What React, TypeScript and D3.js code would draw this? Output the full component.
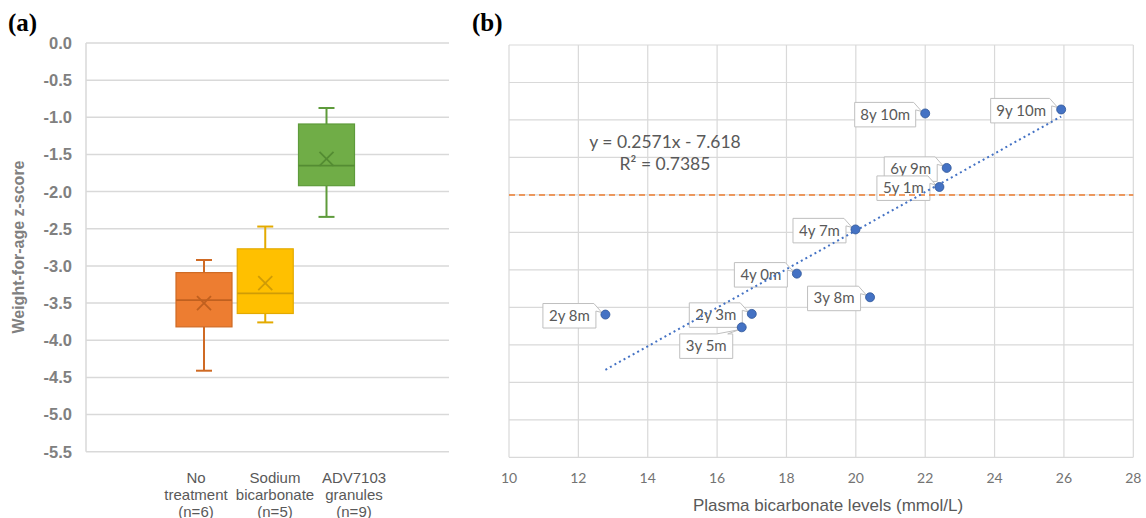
import React from "react";
import * as d3 from "d3";

// ---------- Panel (a): box plots ----------
const groupLines = [
  ["No", "treatment", "(n=6)"],
  ["Sodium", "bicarbonate", "(n=5)"],
  ["ADV7103", "granules", "(n=9)"],
];
const whiskerMin = [-4.41, -3.76, -2.34];
const quartile1 = [-3.82, -3.64, -1.92];
const medians = [-3.46, -3.37, -1.65];
const quartile3 = [-3.09, -2.77, -1.09];
const whiskerMax = [-2.92, -2.47, -0.875];
const means = [-3.5, -3.23, -1.56];
const zTicks = [0, -0.5, -1, -1.5, -2, -2.5, -3, -3.5, -4, -4.5, -5, -5.5];

// ---------- Panel (b): scatter ----------
const bicarbonate = [22.0, 25.92, 22.62, 22.41, 19.99, 18.3, 20.41, 12.78, 17.0, 16.71];
const zscores = [-0.913, -0.86, -1.64, -1.894, -2.46, -3.05, -3.365, -3.596, -3.587, -3.766];
const ageLabels = ["8y 10m", "9y 10m", "6y 9m", "5y 1m", "4y 7m", "4y 0m", "3y 8m", "2y 8m", "2y 3m", "3y 5m"];
const labelSide = ["left", "left", "left", "left", "left", "left", "left", "left", "left", "below"];
const slope = 0.2571;
const intercept = -7.618;
const rSquared = 0.7385;
const threshold = -2;
const bicarbTicks = [10, 12, 14, 16, 18, 20, 22, 24, 26, 28];

// styles
const boxFill = ["#ED7D31", "#FFC000", "#70AD47"];
const boxEdge = ["#CF6A24", "#E3AA00", "#5E9B3B"];
const boxInner = ["#C0601F", "#CF9C06", "#548C33"];
const gridCol = "#D9D9D9";
const sansA = "'Liberation Sans', Arial, sans-serif";
const sansB = "Lato, 'Liberation Sans', sans-serif";

export default function App() {
  // Panel (a) scales
  const yA = d3.scaleLinear().domain([-5.5, 0]).range([451.7, 43]);
  const xA = d3.scalePoint<number>().domain([0, 1, 2]).range([204, 326.5]);
  const xALabel = d3.scalePoint<number>().domain([0, 1, 2]).range([196, 354]);
  const aLeft = 86;
  const aRight = 449;
  const boxW = 56;
  const capW = 16;
  const xSize = 7;

  // Panel (b) scales
  const xB = d3.scaleLinear().domain([10, 28]).range([509, 1133.3]);
  const yB = d3.scaleLinear().domain([-5.5, 0]).range([457.3, 45]);
  const minX = d3.min(bicarbonate) as number;
  const maxX = d3.max(bicarbonate) as number;
  const trend = d3
    .line<number>()
    .x((v) => xB(v))
    .y((v) => yB(slope * v + intercept))([minX, maxX]);

  const labelH = 24.5;

  return (
    <svg
      width={1146}
      height={518}
      style={{ position: "absolute", left: 0, top: 0, background: "#fff" }}
    >
      <rect x={0} y={0} width={1146} height={518} fill="#fff" />
      {/* Panel labels */}
      <text x={8} y={31} fontFamily="'Liberation Serif', 'Times New Roman', serif" fontWeight="bold" fontSize={25} fill="#000">
        (a)
      </text>
      <text x={472} y={31} fontFamily="'Liberation Serif', 'Times New Roman', serif" fontWeight="bold" fontSize={25} fill="#000">
        (b)
      </text>

      {/* ===== Panel (a) ===== */}
      <g>
        {zTicks.map((t) => (
          <line key={"ga" + t} x1={aLeft} x2={aRight} y1={yA(t)} y2={yA(t)} stroke={gridCol} strokeWidth={1.5} />
        ))}
        <line x1={aLeft} x2={aLeft} y1={yA(0)} y2={yA(-5.5)} stroke={gridCol} strokeWidth={1.5} />
        {zTicks.map((t) => (
          <text
            key={"ta" + t}
            x={72}
            y={yA(t)}
            dy="0.36em"
            textAnchor="end"
            fontFamily={sansA}
            fontWeight="bold"
            fontSize={16.5}
            fill="#808080"
          >
            {t.toFixed(1)}
          </text>
        ))}
        <text
          transform={`translate(23.5, 247) rotate(-90)`}
          textAnchor="middle"
          fontFamily={sansA}
          fontWeight="bold"
          fontSize={16}
          fill="#808080"
        >
          Weight-for-age z-score
        </text>

        {groupLines.map((lines, i) => {
          const cx = xA(i) as number;
          const mY = yA(means[i]);
          return (
            <g key={"box" + i}>
              {/* whiskers */}
              <line x1={cx} x2={cx} y1={yA(quartile3[i])} y2={yA(whiskerMax[i])} stroke={boxEdge[i]} strokeWidth={2} />
              <line x1={cx} x2={cx} y1={yA(quartile1[i])} y2={yA(whiskerMin[i])} stroke={boxEdge[i]} strokeWidth={2} />
              <line x1={cx - capW / 2} x2={cx + capW / 2} y1={yA(whiskerMax[i])} y2={yA(whiskerMax[i])} stroke={boxEdge[i]} strokeWidth={2} />
              <line x1={cx - capW / 2} x2={cx + capW / 2} y1={yA(whiskerMin[i])} y2={yA(whiskerMin[i])} stroke={boxEdge[i]} strokeWidth={2} />
              {/* box */}
              <rect
                x={cx - boxW / 2}
                y={yA(quartile3[i])}
                width={boxW}
                height={yA(quartile1[i]) - yA(quartile3[i])}
                fill={boxFill[i]}
                stroke={boxEdge[i]}
                strokeWidth={1.2}
              />
              <line x1={cx - boxW / 2} x2={cx + boxW / 2} y1={yA(medians[i])} y2={yA(medians[i])} stroke={boxInner[i]} strokeWidth={1.8} />
              <line x1={cx - xSize} x2={cx + xSize} y1={mY - xSize} y2={mY + xSize} stroke={boxInner[i]} strokeWidth={1.8} />
              <line x1={cx - xSize} x2={cx + xSize} y1={mY + xSize} y2={mY - xSize} stroke={boxInner[i]} strokeWidth={1.8} />
              {/* category label */}
              {lines.map((ln, j) => (
                <text
                  key={"cl" + j}
                  x={xALabel(i) as number}
                  y={482.5 + j * 17}
                  textAnchor="middle"
                  fontFamily={sansA}
                  fontSize={15}
                  fill="#595959"
                >
                  {ln}
                </text>
              ))}
            </g>
          );
        })}
      </g>

      {/* ===== Panel (b) ===== */}
      <g>
        {zTicks.map((t) => (
          <line key={"gby" + t} x1={xB(10)} x2={xB(28)} y1={yB(t)} y2={yB(t)} stroke={gridCol} strokeWidth={1.2} />
        ))}
        {bicarbTicks.map((t) => (
          <line key={"gbx" + t} x1={xB(t)} x2={xB(t)} y1={yB(0)} y2={yB(-5.5)} stroke={gridCol} strokeWidth={1.2} />
        ))}
        {bicarbTicks.map((t) => (
          <text
            key={"tb" + t}
            x={xB(t)}
            y={483}
            textAnchor="middle"
            fontFamily={sansB}
            fontSize={14}
            fill="#737373"
          >
            {t}
          </text>
        ))}
        <text x={828} y={511} textAnchor="middle" fontFamily={sansA} fontSize={17} fill="#595959">
          Plasma bicarbonate levels (mmol/L)
        </text>

        {/* data label callouts */}
        {ageLabels.map((lab, i) => {
          const px = xB(bicarbonate[i]);
          const py = yB(zscores[i]);
          const w = 13 + lab.length * 8;
          let L: number, R: number, T: number, B: number, d: string;
          if (labelSide[i] === "below") {
            R = px - 9;
            L = R - w;
            T = py + 6.6;
            B = T + labelH;
            d = `M${L},${T} H${R - 16} L${px - 3},${py + 2.5} L${R - 5},${T} H${R} V${B} H${L} Z`;
          } else {
            R = px - 9.5;
            L = R - w;
            T = py + 1.2 - labelH / 2;
            B = T + labelH;
            d = `M${L},${T} H${R - 2} L${px - 3.5},${py - 2} L${R},${T + 7.5} V${B} H${L} Z`;
          }
          return (
            <g key={"lab" + i}>
              <path d={d} fill="#fff" stroke="#BFBFBF" strokeWidth={1} />
              <text
                x={(L + R) / 2}
                y={(T + B) / 2 + 5}
                textAnchor="middle"
                fontFamily={sansB}
                fontSize={15}
                fill="#595959"
              >
                {lab}
              </text>
            </g>
          );
        })}

        {/* threshold line */}
        <line
          x1={xB(10)}
          x2={xB(28)}
          y1={yB(threshold)}
          y2={yB(threshold)}
          stroke="#ED7D31"
          strokeWidth={1.5}
          strokeDasharray="6 4"
        />
        {/* trend line */}
        <path d={trend || ""} fill="none" stroke="#4472C4" strokeWidth={2} strokeDasharray="2 3.2" />

        {/* points */}
        {bicarbonate.map((v, i) => (
          <circle key={"pt" + i} cx={xB(v)} cy={yB(zscores[i])} r={4.5} fill="#4472C4" stroke="#2F5597" strokeWidth={0.8} />
        ))}

        {/* equation */}
        <text x={665} y={148} textAnchor="middle" fontFamily={sansB} fontSize={17.5} fill="#595959">
          {`y = ${slope}x - ${Math.abs(intercept)}`}
        </text>
        <text x={665} y={170} textAnchor="middle" fontFamily={sansB} fontSize={17.5} fill="#595959">
          {`R² = ${rSquared}`}
        </text>
      </g>
    </svg>
  );
}
